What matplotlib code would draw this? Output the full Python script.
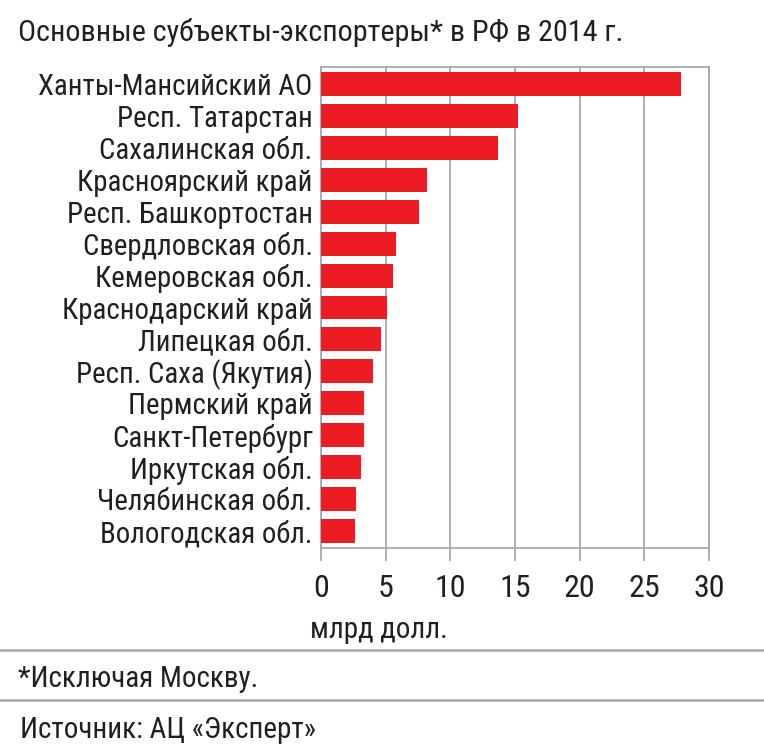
import matplotlib
matplotlib.use('Agg')
from matplotlib import pyplot as plt
from matplotlib.lines import Line2D

regions = ['Ханты-Мансийский АО', 'Респ. Татарстан', 'Сахалинская обл.',
           'Красноярский край', 'Респ. Башкортостан', 'Свердловская обл.',
           'Кемеровская обл.', 'Краснодарский край', 'Липецкая обл.',
           'Респ. Саха (Якутия)', 'Пермский край', 'Санкт-Петербург',
           'Иркутская обл.', 'Челябинская обл.', 'Вологодская обл.']
export_bn = [27.8, 15.2, 13.7, 8.2, 7.6, 5.8, 5.6, 5.1, 4.6,
             4.0, 3.3, 3.3, 3.1, 2.7, 2.6]
x_ticks = [0, 5, 10, 15, 20, 25, 30]

plt.rcParams['font.family'] = ['Roboto Condensed', 'DejaVu Sans']
plt.rcParams['font.stretch'] = 'condensed'
text_color = '#231f20'
grid_color = '#a7a9ac'
bar_color = '#ed1c24'

fig = plt.figure(figsize=(7.64, 7.47), dpi=100)
ax = fig.add_axes([0.4202, 0.2664, 0.508, 0.6439])

ypos = list(range(len(regions)))
ax.barh(ypos, export_bn, height=0.75, color=bar_color, zorder=3)
ax.set_ylim(len(regions) - 0.47, -0.53)
ax.set_xlim(0, 30)
ax.set_xticks(x_ticks)
ax.set_xticklabels([str(t) for t in x_ticks], fontsize=23, color=text_color)
ax.set_yticks(ypos)
ax.set_yticklabels(regions, fontsize=20.8, color=text_color)
ax.tick_params(axis='y', length=0, pad=6)
ax.tick_params(axis='x', length=9, width=1.3, color=grid_color, pad=10)
ax.grid(axis='x', color=grid_color, linewidth=1.3, zorder=0)
for s in ax.spines.values():
    s.set_color(grid_color)
    s.set_linewidth(1.3)

fig.text(0.023, 0.957, 'Основные субъекты-экспортеры* в РФ в 2014 г.',
         fontsize=21.7, color=text_color, va='center', ha='left')
fig.text(0.406, 0.157, 'млрд долл.', fontsize=21, color=text_color,
         va='center', ha='left')
fig.text(0.024, 0.091, '*Исключая Москву.', fontsize=21, color=text_color,
         va='center', ha='left')
fig.text(0.026, 0.023, 'Источник: АЦ «Эксперт»', fontsize=21, color=text_color,
         va='center', ha='left')

for yy in [1 - 650 / 747, 1 - 700 / 747]:
    fig.add_artist(Line2D([0, 1], [yy, yy], transform=fig.transFigure,
                          color=grid_color, linewidth=1.8))

fig.savefig('out.png', dpi=100)
